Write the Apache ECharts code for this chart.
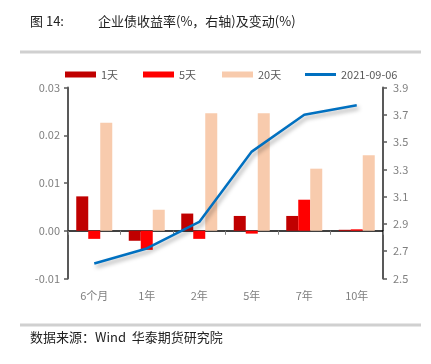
<!DOCTYPE html>
<html><head><meta charset="utf-8">
<script src="https://cdn.jsdelivr.net/npm/echarts@6/dist/echarts.min.js"></script>
<style>html,body{margin:0;padding:0;background:#fff}#c{width:431px;height:364px}</style>
</head><body><div id="c"></div>
<script>
var categories = ['6个月', '1年', '2年', '5年', '7年', '10年'];
var d1 = [0.0072, -0.0021, 0.0036, 0.0031, 0.0031, 0.0002];
var d5 = [-0.0017, -0.0040, -0.0017, -0.0006, 0.0065, 0.0003];
var d20 = [0.0226, 0.0044, 0.0246, 0.0246, 0.0130, 0.0158];
var yld = [2.61, 2.72, 2.915, 3.43, 3.70, 3.77];
var leftTicks = { min: -0.01, max: 0.03, interval: 0.01 };
var rightTicks = { min: 2.5, max: 3.9, interval: 0.2 };

var chart = echarts.init(document.getElementById('c'));
var cjk = '"Noto Sans CJK SC", "Noto Sans", sans-serif';
function lg(name, left, h) {
  return {
    top: 64, left: left, itemWidth: 31, itemHeight: h, icon: 'rect',
    textStyle: { color: '#595959', fontSize: 11 },
    data: [name]
  };
}
chart.setOption({
  animation: false,
  textStyle: { fontFamily: cjk },
  graphic: [
    { type: 'text', left: 30, top: 15, style: { text: '图 14:', font: '13px ' + cjk, fill: '#222' } },
    { type: 'text', left: 98, top: 15, style: { text: '企业债收益率(%，右轴)及变动(%)', font: '13px ' + cjk, fill: '#222' } },
    { type: 'rect', shape: { x: 20, y: 50.5, width: 401, height: 3 }, style: { fill: '#d0d0d0' } },
    { type: 'rect', shape: { x: 20, y: 323.5, width: 401, height: 3 }, style: { fill: '#d0d0d0' } },
    { type: 'text', left: 30, top: 331, style: { text: '数据来源：Wind  华泰期货研究院', font: '13px ' + cjk, fill: '#222' } }
  ],
  legend: [lg('1天', 60, 6), lg('5天', 138, 6), lg('20天', 217, 6), lg('2021-09-06', 300, 3)],
  grid: { left: 68, right: 48, top: 87.5, height: 191 },
  xAxis: [
    {
      type: 'category', data: categories, position: 'bottom',
      axisLine: { show: false }, axisTick: { show: false },
      axisLabel: { color: '#7f7f7f', fontSize: 11, margin: 12 }
    },
    {
      type: 'category', data: categories, position: 'bottom',
      axisLine: { onZero: true, onZeroAxisIndex: 0, lineStyle: { color: '#000', width: 1.5 } },
      axisTick: { show: true, length: 4, lineStyle: { color: '#7f7f7f' } },
      axisLabel: { show: false }
    }
  ],
  yAxis: [
    {
      type: 'value', min: leftTicks.min, max: leftTicks.max, interval: leftTicks.interval,
      axisLine: { show: true, lineStyle: { color: '#595959', width: 2 } },
      axisTick: { show: true, length: 4, lineStyle: { color: '#595959', width: 1.5 } },
      splitLine: { show: false },
      axisLabel: { color: '#7f7f7f', fontSize: 11, margin: 8, formatter: function (v) { return v.toFixed(2); } }
    },
    {
      type: 'value', min: rightTicks.min, max: rightTicks.max, interval: rightTicks.interval,
      position: 'right',
      axisLine: { show: true, lineStyle: { color: '#595959', width: 2 } },
      axisTick: { show: true, length: 4, lineStyle: { color: '#595959', width: 1.5 } },
      splitLine: { show: false },
      axisLabel: { color: '#7f7f7f', fontSize: 11, margin: 10, formatter: function (v) { return v.toFixed(1); } }
    }
  ],
  series: [
    { name: '1天', type: 'bar', data: d1, barWidth: 12, barGap: '0%', itemStyle: { color: '#C00000' } },
    { name: '5天', type: 'bar', data: d5, barWidth: 12, barGap: '0%', itemStyle: { color: '#FF0000' } },
    { name: '20天', type: 'bar', data: d20, barWidth: 12, barGap: '0%', itemStyle: { color: '#F8CBAD' } },
    {
      name: '2021-09-06', type: 'line', yAxisIndex: 1, data: yld, symbol: 'none',
      itemStyle: { color: '#0070C0' },
      lineStyle: { color: '#0070C0', width: 2.5, shadowColor: 'rgba(0,0,0,0.35)', shadowBlur: 4, shadowOffsetX: 2, shadowOffsetY: 3 }
    }
  ]
});
</script></body></html>
